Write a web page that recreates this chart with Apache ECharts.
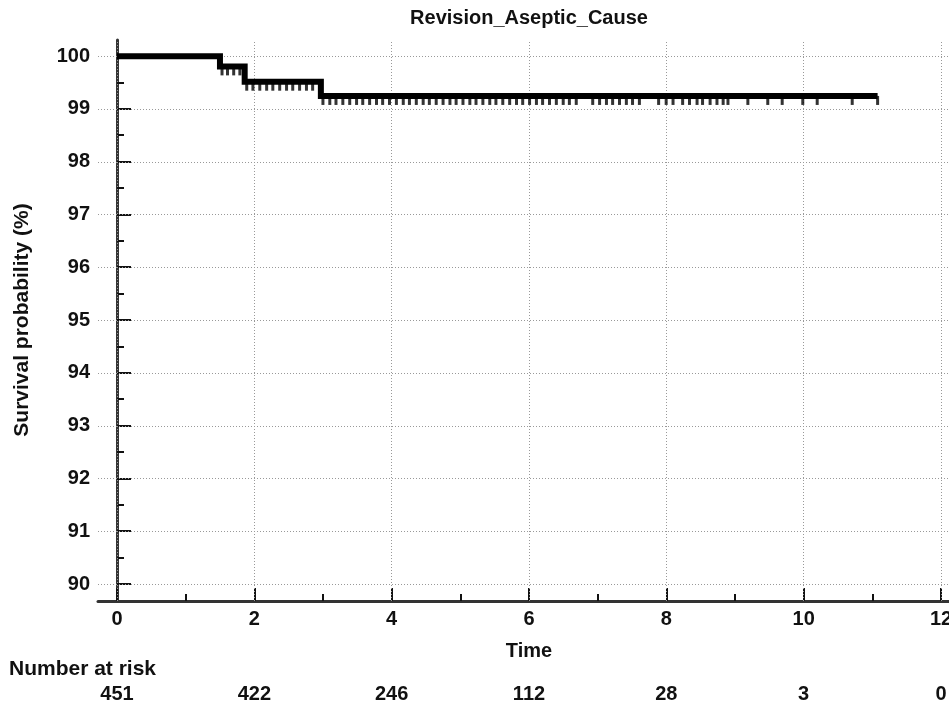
<!DOCTYPE html>
<html><head><meta charset="utf-8">
<script src="https://cdn.jsdelivr.net/npm/echarts@6/dist/echarts.min.js"></script>
<style>html,body{margin:0;padding:0;background:#fff}#c{width:949px;height:703px}</style>
</head><body><div id="c"></div>
<script>
// Kaplan-Meier step data
const eventTimes = [0, 1.50, 1.86, 2.97, 11.08];
const survival = [100, 99.81, 99.52, 99.25, 99.25];
// censored observation times
const censorTimes = [
  1.53, 1.61, 1.70, 1.79,
  1.89, 1.98, 2.08, 2.18, 2.27, 2.37, 2.47, 2.56, 2.66, 2.76, 2.85,
  3.00, 3.10, 3.19, 3.29, 3.39, 3.49, 3.58, 3.68, 3.78, 3.87, 3.97, 4.07, 4.17, 4.26, 4.36,
  4.46, 4.55, 4.65, 4.75, 4.85, 4.94, 5.04, 5.14, 5.23, 5.33, 5.43, 5.52, 5.62, 5.72, 5.82,
  5.91, 6.01, 6.11, 6.20, 6.30, 6.40, 6.50, 6.59, 6.69,
  6.93, 7.03, 7.13, 7.22, 7.32, 7.42, 7.51, 7.61,
  7.89, 8.00, 8.10, 8.24, 8.34, 8.45, 8.53, 8.64, 8.74, 8.83, 8.90,
  9.19, 9.48, 9.69, 9.99, 10.20, 10.71, 11.08
];
const xTicks = [0, 2, 4, 6, 8, 10, 12];
const yTicks = [90, 91, 92, 93, 94, 95, 96, 97, 98, 99, 100];
const riskTimes = [0, 2, 4, 6, 8, 10, 12];
const riskCounts = [451, 422, 246, 112, 28, 3, 0];
const titleText = 'Revision_Aseptic_Cause';
const xName = 'Time';
const yName = 'Survival probability (%)';
const riskLabel = 'Number at risk';

function survAt(t) {
  let s = survival[0];
  for (let i = 0; i < eventTimes.length; i++) if (eventTimes[i] <= t) s = survival[i];
  return s;
}
const FONT = '"Liberation Sans", Arial, sans-serif';
const TXT = '#111';
const curveData = eventTimes.map((t, i) => [t, survival[i]]);
const censorData = censorTimes.map(t => [t, survAt(t)]);

const chart = echarts.init(document.getElementById('c'), null, {renderer: 'canvas'});
chart.setOption({
  animation: false,
  backgroundColor: '#fff',
  textStyle: {fontFamily: FONT},
  grid: [
    {left: 117, right: 8, top: 56, bottom: 119, containLabel: false, outerBoundsMode: 'none'},
    {left: 98, right: 0, top: 40, bottom: 102, containLabel: false, outerBoundsMode: 'none'}
  ],
  xAxis: [
    {gridIndex: 0, type: 'value', min: 0, max: 12, interval: 2, offset: 17,
     axisLine: {show: false},
     axisTick: {show: true, inside: true, length: 13, lineStyle: {color: '#111', width: 2}},
     minorTick: {show: true, splitNumber: 2, length: 7, lineStyle: {color: '#111', width: 2}},
     splitLine: {show: false}, minorSplitLine: {show: false},
     axisLabel: {margin: 8, fontSize: 20, fontWeight: 'bold', color: TXT, fontFamily: FONT,
       alignMaxLabel: 'center', alignMinLabel: 'center'},
     name: xName, nameLocation: 'middle', nameGap: 40,
     nameTextStyle: {fontSize: 20, fontWeight: 'bold', color: TXT, fontFamily: FONT}},
    {gridIndex: 0, type: 'value', min: 0, max: 12, interval: 2, offset: 100, position: 'bottom',
     axisLine: {show: false}, axisTick: {show: false}, splitLine: {show: false},
     axisLabel: {margin: 0, fontSize: 20, fontWeight: 'bold', color: TXT, fontFamily: FONT,
       alignMaxLabel: 'center', alignMinLabel: 'center',
       formatter: v => { const i = riskTimes.indexOf(v); return i >= 0 ? String(riskCounts[i]) : ''; }}},
    {gridIndex: 1, type: 'value', min: -0.2767, max: 12.12,
     axisLine: {show: true, lineStyle: {color: '#333', width: 3}},
     axisTick: {show: false}, axisLabel: {show: false}, splitLine: {show: false}}
  ],
  yAxis: [
    {gridIndex: 0, type: 'value', min: 90, max: 100, interval: 1, offset: 19,
     axisLine: {show: false},
     axisTick: {show: true, inside: true, length: 14, lineStyle: {color: '#111', width: 2}},
     minorTick: {show: true, splitNumber: 2, length: 7, lineStyle: {color: '#111', width: 2}},
     splitLine: {show: false}, minorSplitLine: {show: false},
     axisLabel: {margin: 8, fontSize: 20, fontWeight: 'bold', color: TXT, fontFamily: FONT},
     name: yName, nameLocation: 'middle', nameGap: 65,
     nameTextStyle: {fontSize: 21, fontWeight: 'bold', color: TXT, fontFamily: FONT}},
    {gridIndex: 1, type: 'value', min: 89.68, max: 100.31,
     axisLine: {show: true, lineStyle: {color: '#333', width: 3}},
     axisTick: {show: false}, axisLabel: {show: false}, splitLine: {show: false}}
  ],
  graphic: [
    {type: 'text', x: 529, y: 8, style: {text: titleText, align: 'center', verticalAlign: 'top',
      fontSize: 20, fontWeight: 'bold', fontFamily: FONT, fill: TXT}},
    {type: 'text', x: 9, y: 659, style: {text: riskLabel, align: 'left', verticalAlign: 'top',
      fontSize: 21, fontWeight: 'bold', fontFamily: FONT, fill: TXT}}
  ],
  series: [
    {type: 'line', xAxisIndex: 2, yAxisIndex: 1, data: [], z: 1, silent: true,
     markLine: {silent: true, symbol: 'none', label: {show: false}, animation: false,
       lineStyle: {color: '#999', type: [1, 2], width: 1},
       data: yTicks.map(v => ({yAxis: v})).concat(xTicks.map(v => ({xAxis: v})))}},
    {type: 'line', xAxisIndex: 2, yAxisIndex: 1, data: curveData, step: 'end', z: 5,
     showSymbol: false, symbol: 'none',
     lineStyle: {color: '#000', width: 6, cap: 'butt', join: 'miter'}},
    {type: 'scatter', xAxisIndex: 2, yAxisIndex: 1, data: censorData, z: 6,
     symbol: 'rect', symbolSize: [3, 9], symbolOffset: [0, 4.5],
     itemStyle: {color: '#000'}}
  ]
});
</script></body></html>
